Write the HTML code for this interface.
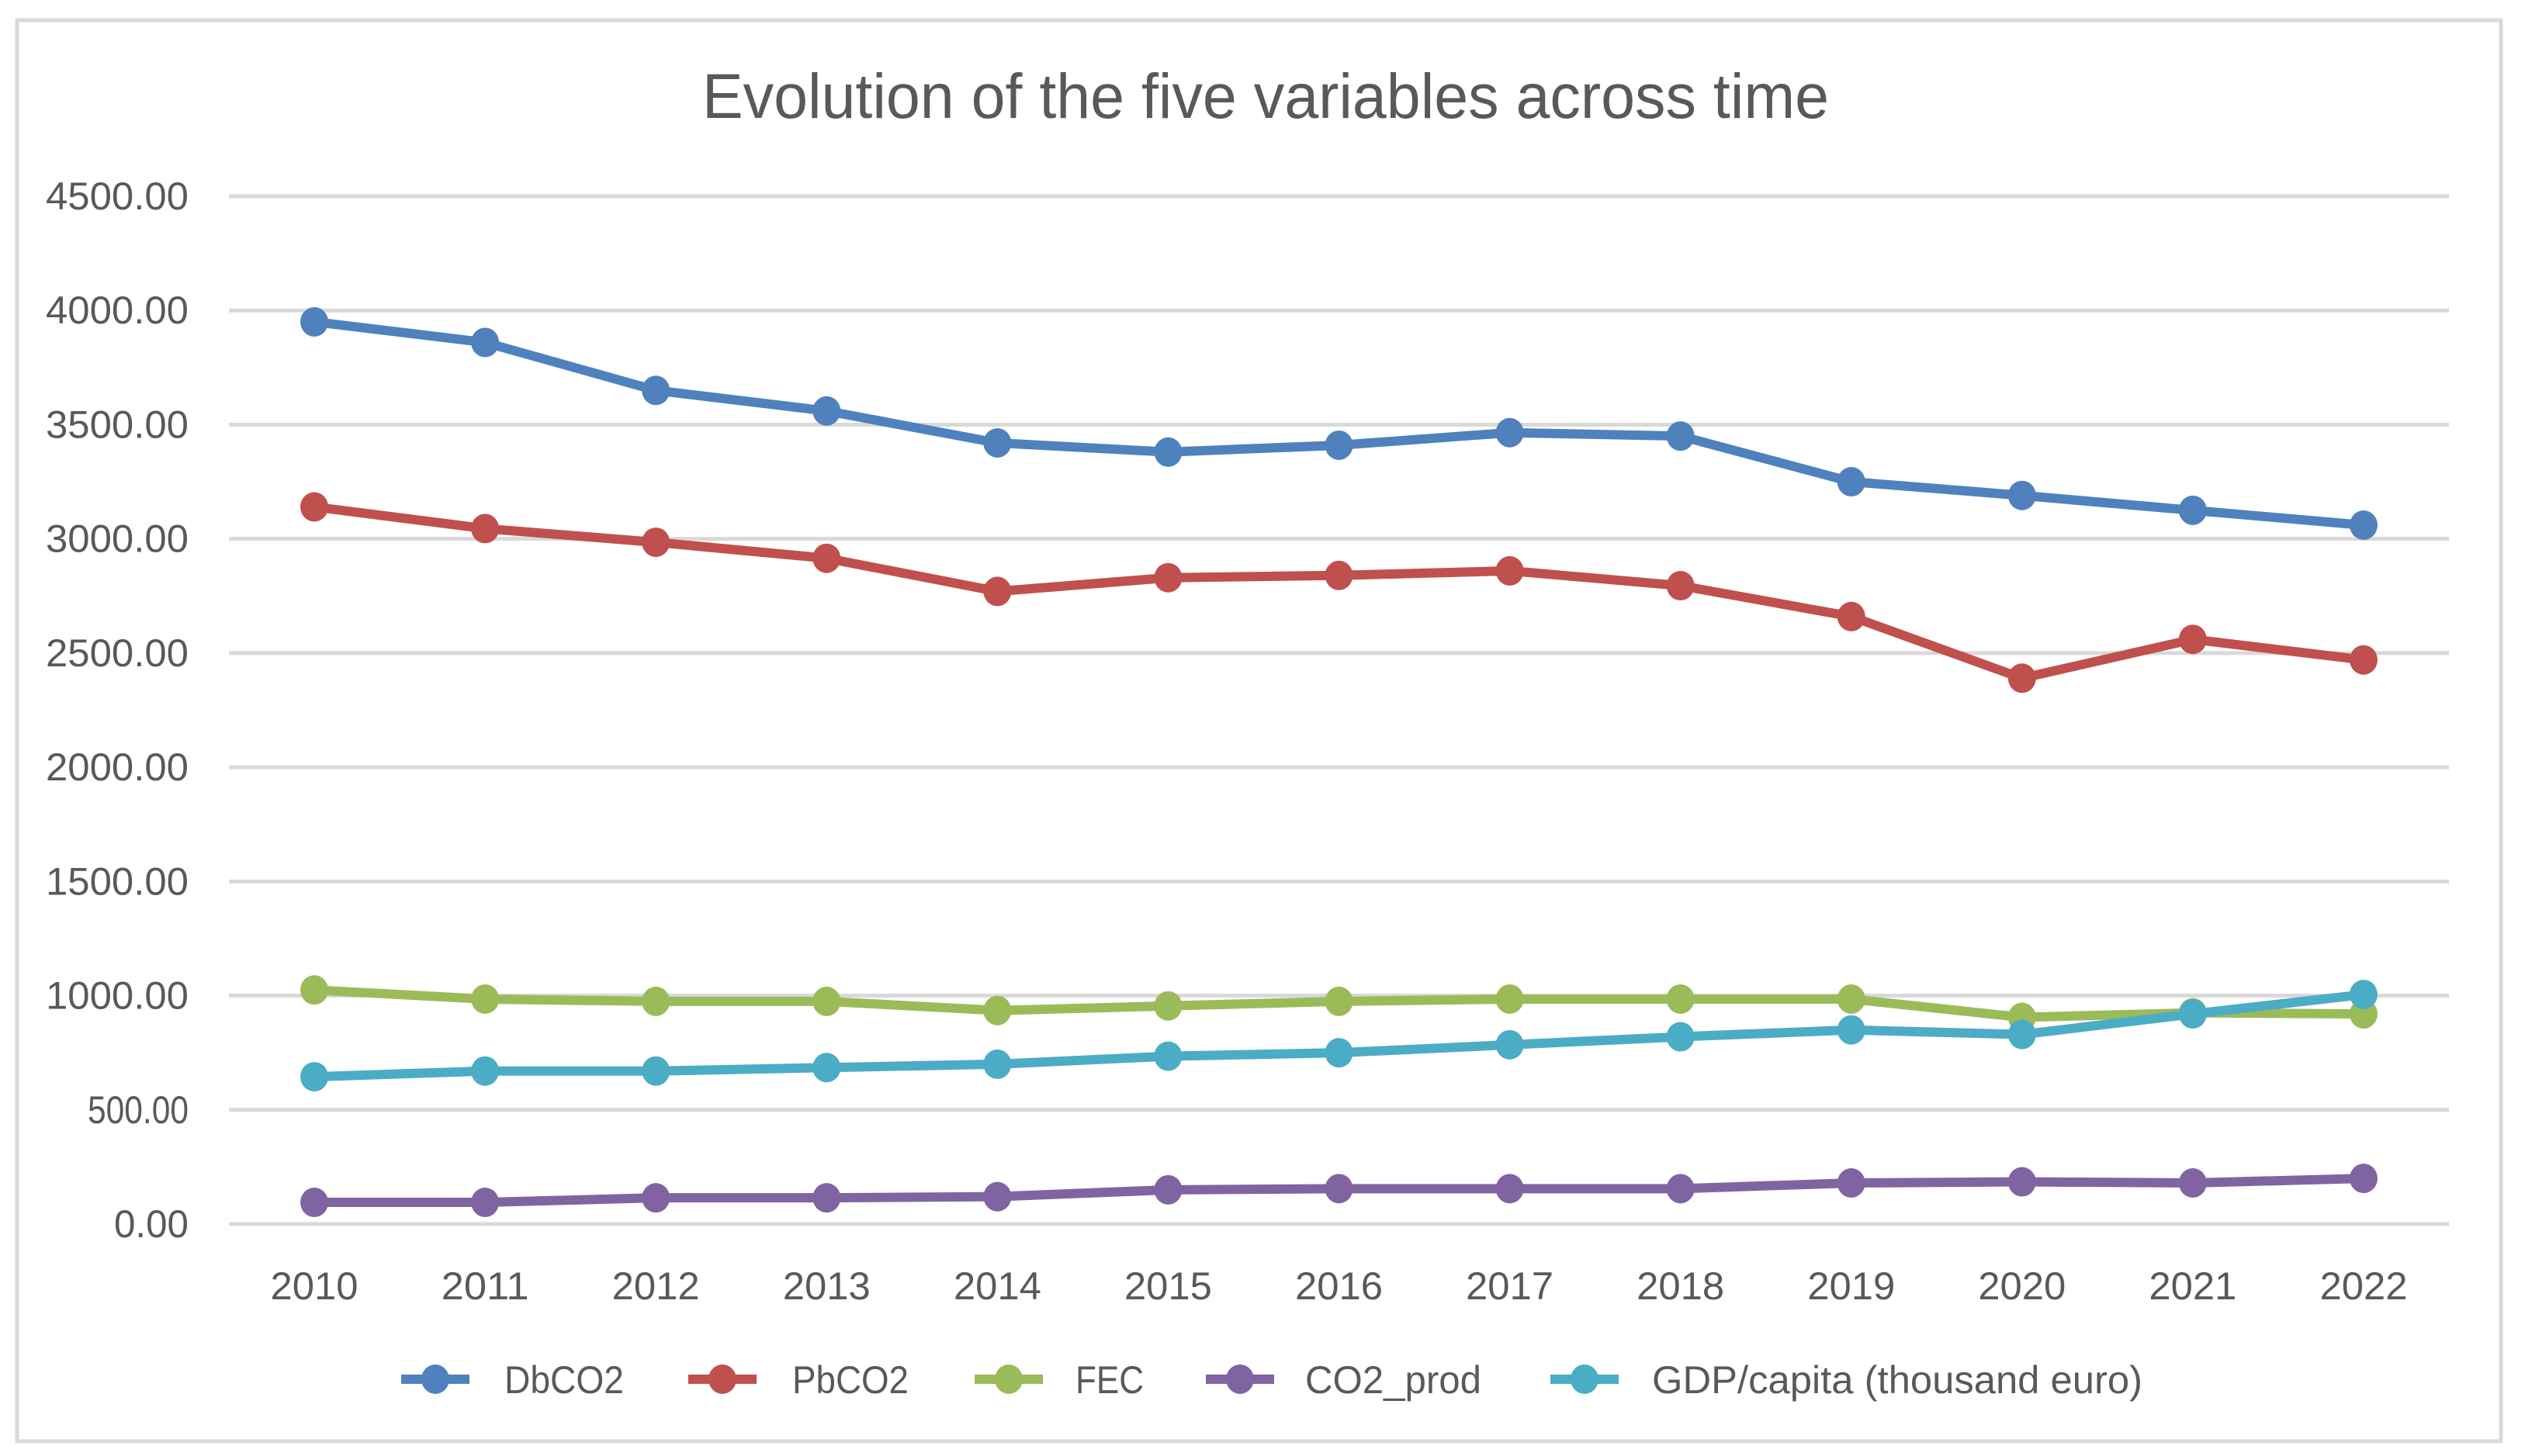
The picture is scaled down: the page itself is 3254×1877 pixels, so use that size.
<!DOCTYPE html>
<html><head><meta charset="utf-8"><style>
html,body{margin:0;padding:0;background:#fff}
svg{display:block}
text{font-family:"Liberation Sans Narrow","Liberation Sans",sans-serif;fill:#595959}
</style></head><body>
<svg id="chart" width="3254" height="1877" viewBox="0 0 3254 1877" xmlns="http://www.w3.org/2000/svg">
<rect x="22" y="26" width="3201" height="1832" fill="#fff" stroke="#d9d9d9" stroke-width="5"/>
<text x="1631" y="152" font-size="82" text-anchor="middle" textLength="1452" lengthAdjust="spacingAndGlyphs">Evolution of the five variables across time</text>
<g id="grid"></g><g id="yticks"></g><g id="xticks"></g><g id="series"></g><g id="legend"></g>
</svg>
<script>
const years = ["2010","2011","2012","2013","2014","2015","2016","2017","2018","2019","2020","2021","2022"];
const yTicks = [0,500,1000,1500,2000,2500,3000,3500,4000,4500];
const seriesNames = ["DbCO2","PbCO2","FEC","CO2_prod","GDP/capita (thousand euro)"];
const seriesColors = ["#4f81bd","#c0504d","#9bbb59","#8064a2","#4bacc6"];
const dbco2 = [3950,3860,3650,3560,3420,3380,3410,3465,3450,3250,3190,3125,3060];
const pbco2 = [3140,3045,2985,2915,2770,2830,2840,2860,2795,2660,2390,2560,2470];
const fec = [1025,985,975,975,935,955,975,985,985,985,905,925,920];
const co2prod = [95,95,115,115,120,150,155,155,155,180,185,180,200];
const gdp = [645,670,670,685,700,735,750,785,820,850,830,920,1005];
const allSeries = [dbco2,pbco2,fec,co2prod,gdp];

const NS="http://www.w3.org/2000/svg";
const plotLeft=295,plotRight=3156,plotTop=253,plotBottom=1578,ymax=4500;
const band=(plotRight-plotLeft)/years.length;
const xs=i=>plotLeft+band*(i+0.5);
const ys=v=>plotBottom-(v/ymax)*(plotBottom-plotTop);
function mk(tag,attrs,parent){const e=document.createElementNS(NS,tag);for(const k in attrs)e.setAttribute(k,attrs[k]);parent.appendChild(e);return e;}
const G=id=>document.getElementById(id);
const tickW={4:96,6:130,7:184};

yTicks.forEach(t=>{
  const l=mk('line',{x1:plotLeft,x2:plotRight,y1:ys(t),y2:ys(t),stroke:'#d9d9d9','stroke-width':5},G('grid'));
  
  
  const lbl=t.toFixed(2);
  const tx=mk('text',{x:243,y:ys(t)+17,'font-size':50,'text-anchor':'end',textLength:tickW[lbl.length],lengthAdjust:'spacingAndGlyphs'},G('yticks'));
  tx.textContent=lbl;
  
  
});
years.forEach((y,i)=>{
  const tx=mk('text',{x:xs(i),y:1675,'font-size':50,'text-anchor':'middle',textLength:113,lengthAdjust:'spacingAndGlyphs'},G('xticks'));
  tx.textContent=y;
  
  
});
allSeries.forEach((arr,s)=>{
  const g=mk('g',{},G('series'));
  
  
  const pts=arr.map((v,i)=>xs(i)+','+ys(v)).join(' ');
  mk('polyline',{points:pts,fill:'none',stroke:seriesColors[s],'stroke-width':12,'stroke-linejoin':'round'},g);
  arr.forEach((v,i)=>{
    const c=mk('ellipse',{cx:xs(i),cy:ys(v),rx:18,ry:19,fill:seriesColors[s]},g);
    
    
  });
});
const legX=[517,887,1256,1554,1998];
const legTX=[650,1021,1386,1682,2129];
const legW=[154,150,88,227,632];
seriesNames.forEach((n,s)=>{
  const g=mk('g',{},G('legend'));
  
  
  mk('line',{x1:legX[s],x2:legX[s]+88,y1:1778,y2:1778,stroke:seriesColors[s],'stroke-width':12},g);
  mk('ellipse',{cx:legX[s]+44,cy:1778,rx:18,ry:19,fill:seriesColors[s]},g);
  const t=mk('text',{x:legTX[s],y:1796,'font-size':50,textLength:legW[s],lengthAdjust:'spacingAndGlyphs'},g);
  t.textContent=n;
});
</script>
</body></html>
